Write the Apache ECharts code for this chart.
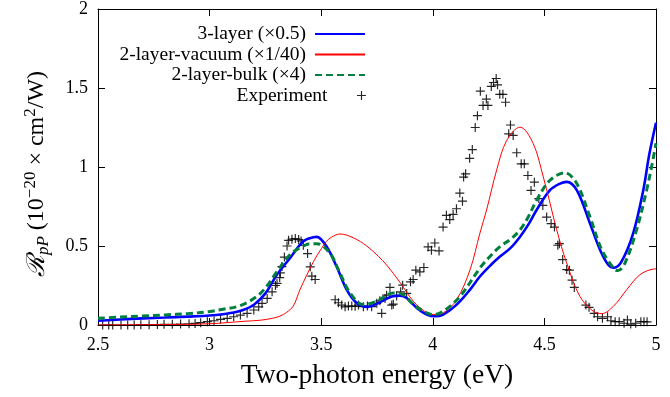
<!DOCTYPE html>
<html>
<head>
<meta charset="utf-8">
<script src="https://cdn.jsdelivr.net/npm/echarts@6/dist/echarts.min.js"></script>
<style>
  html, body { margin: 0; padding: 0; background: #fff; }
  #chart { width: 670px; height: 397px; }
</style>
</head>
<body>
<div id="chart"></div>
<script>
// Axis ticks
const xTicks = [2.5, 3, 3.5, 4, 4.5, 5];
const yTicks = [0, 0.5, 1, 1.5, 2];

// Series names
const names = ['3-layer (\u00d70.5)', '2-layer-vacuum (\u00d71/40)', '2-layer-bulk (\u00d74)', 'Experiment'];

// 3-layer model (scaled by 0.5): [energy eV, R]
const threeLayer = [
  [2.5, 0.027], [2.6, 0.035], [2.7, 0.042], [2.8, 0.047], [2.9, 0.053], [3.0, 0.06],
  [3.06, 0.068], [3.1, 0.077], [3.15, 0.095], [3.2, 0.13], [3.25, 0.2], [3.3, 0.315],
  [3.36, 0.423], [3.42, 0.53], [3.465, 0.556], [3.48, 0.558], [3.524, 0.497], [3.569, 0.37],
  [3.614, 0.224], [3.659, 0.14], [3.71, 0.115], [3.763, 0.144], [3.816, 0.181], [3.853, 0.186],
  [3.883, 0.171], [3.928, 0.108], [3.973, 0.066], [4.01, 0.055], [4.047, 0.066], [4.107, 0.129],
  [4.167, 0.224], [4.211, 0.307], [4.26, 0.38], [4.301, 0.433], [4.35, 0.49], [4.391, 0.559],
  [4.43, 0.64], [4.465, 0.728], [4.525, 0.853], [4.57, 0.895], [4.6, 0.906], [4.645, 0.853],
  [4.704, 0.644], [4.749, 0.476], [4.786, 0.381], [4.812, 0.362], [4.846, 0.402], [4.898, 0.581],
  [4.943, 0.853], [4.97, 1.08], [5.0, 1.28]
];

// 2-layer model, vacuum (scaled by 1/40)
const twoLayerVacuum = [
  [2.5, 0.0], [2.8, 0.003], [3.0, 0.008], [3.159, 0.024], [3.226, 0.03], [3.28, 0.042],
  [3.315, 0.056], [3.345, 0.08], [3.375, 0.12], [3.405, 0.224], [3.465, 0.4], [3.502, 0.486],
  [3.524, 0.53], [3.545, 0.555], [3.584, 0.576], [3.644, 0.552], [3.704, 0.5], [3.756, 0.435],
  [3.793, 0.38], [3.853, 0.27], [3.913, 0.15], [3.973, 0.077], [4.002, 0.066], [4.047, 0.077],
  [4.107, 0.161], [4.167, 0.35], [4.211, 0.581], [4.241, 0.728], [4.286, 0.98], [4.331, 1.168],
  [4.391, 1.252], [4.45, 1.148], [4.495, 0.937], [4.522, 0.79], [4.555, 0.602], [4.6, 0.392],
  [4.659, 0.181], [4.719, 0.087], [4.757, 0.072], [4.809, 0.118], [4.869, 0.224], [4.928, 0.318],
  [4.988, 0.354], [5.0, 0.355]
];

// 2-layer model, bulk (scaled by 4)
const twoLayerBulk = [
  [2.5, 0.042], [2.6, 0.05], [2.7, 0.057], [2.8, 0.064], [2.9, 0.072], [3.0, 0.085],
  [3.06, 0.1], [3.136, 0.122], [3.211, 0.18], [3.256, 0.245], [3.293, 0.32], [3.36, 0.445],
  [3.42, 0.5], [3.45, 0.515], [3.48, 0.515], [3.539, 0.455], [3.584, 0.329], [3.629, 0.203],
  [3.689, 0.129], [3.749, 0.15], [3.823, 0.203], [3.868, 0.192], [3.913, 0.129], [3.973, 0.077],
  [4.002, 0.066], [4.047, 0.087], [4.122, 0.181], [4.211, 0.36], [4.26, 0.44], [4.301, 0.496],
  [4.35, 0.545], [4.391, 0.602], [4.43, 0.69], [4.465, 0.79], [4.525, 0.916], [4.592, 0.963],
  [4.645, 0.895], [4.704, 0.685], [4.757, 0.476], [4.816, 0.35], [4.83, 0.345], [4.861, 0.392],
  [4.913, 0.602], [4.958, 0.853], [4.98, 1.0], [5.0, 1.15]
];

// Measured spectrum
const experiment = [
  [2.521, 0.0], [2.548, 0.0], [2.566, 0.0], [2.603, 0.0], [2.633, 0.0], [2.662, 0.0],
  [2.692, 0.002], [2.729, 0.002], [2.766, 0.003], [2.796, 0.004], [2.833, 0.005], [2.87, 0.006],
  [2.908, 0.008], [2.935, 0.01], [2.96, 0.015], [2.99, 0.021], [3.02, 0.027], [3.049, 0.036],
  [3.079, 0.042], [3.108, 0.052], [3.138, 0.063], [3.168, 0.074], [3.198, 0.095], [3.22, 0.115],
  [3.235, 0.137], [3.258, 0.168], [3.28, 0.21], [3.295, 0.25], [3.302, 0.263], [3.314, 0.3],
  [3.317, 0.33], [3.324, 0.37], [3.335, 0.43], [3.347, 0.5], [3.354, 0.536], [3.369, 0.543],
  [3.384, 0.547], [3.399, 0.541], [3.41, 0.532], [3.42, 0.505], [3.439, 0.452], [3.451, 0.368],
  [3.458, 0.309], [3.473, 0.288],
  [3.5625, 0.16], [3.577, 0.141], [3.592, 0.126], [3.607, 0.115], [3.622, 0.12], [3.637, 0.12],
  [3.652, 0.118], [3.667, 0.126], [3.689, 0.116], [3.707, 0.12], [3.726, 0.116], [3.749, 0.137],
  [3.763, 0.153], [3.771, 0.074], [3.786, 0.168], [3.793, 0.189], [3.808, 0.238], [3.816, 0.126],
  [3.823, 0.132], [3.838, 0.183], [3.856, 0.21], [3.865, 0.252], [3.883, 0.2], [3.9, 0.273],
  [3.912, 0.288], [3.924, 0.347], [3.942, 0.336], [3.96, 0.364], [3.979, 0.494], [3.994, 0.473],
  [4.009, 0.519], [4.028, 0.469], [4.046, 0.62], [4.061, 0.694], [4.076, 0.667], [4.091, 0.7],
  [4.106, 0.736], [4.121, 0.835], [4.133, 0.784], [4.138, 0.936], [4.147, 0.957], [4.165, 1.055],
  [4.177, 1.11], [4.19, 1.25], [4.2, 1.325], [4.213, 1.48], [4.225, 1.39], [4.24, 1.43],
  [4.247, 1.39], [4.262, 1.51], [4.272, 1.535], [4.284, 1.56], [4.29, 1.52], [4.3, 1.46],
  [4.314, 1.46], [4.326, 1.41], [4.34, 1.21], [4.348, 1.266], [4.36, 1.2], [4.376, 1.09],
  [4.396, 1.02], [4.41, 1.02], [4.426, 0.946], [4.44, 0.852], [4.455, 0.904], [4.475, 0.8],
  [4.493, 0.757], [4.51, 0.683], [4.53, 0.642], [4.545, 0.62], [4.56, 0.505], [4.567, 0.515],
  [4.582, 0.414], [4.6, 0.351], [4.612, 0.347], [4.624, 0.284], [4.634, 0.238], [4.686, 0.126],
  [4.7, 0.112], [4.723, 0.074], [4.738, 0.052], [4.76, 0.042], [4.783, 0.052], [4.798, 0.027],
  [4.817, 0.021], [4.835, 0.021], [4.857, 0.011], [4.872, 0.032], [4.887, 0.006], [4.909, 0.011],
  [4.932, 0.021], [4.946, 0.021], [4.96, 0.02]
];

const FONT = "'Liberation Serif', 'DejaVu Serif', serif";
const PLUS = 'path://M8.7,0 H11.3 V8.7 H20 V11.3 H11.3 V20 H8.7 V11.3 H0 V8.7 H8.7 Z';

const chart = echarts.init(document.getElementById('chart'), null, { renderer: 'canvas' });

function axisX(pos, showLabels) {
  return {
    type: 'value', position: pos, min: 2.5, max: 5, interval: 0.5,
    axisLine: { show: true, onZero: false, lineStyle: { color: '#000', width: 1 } },
    axisTick: { show: true, inside: true, length: 7, lineStyle: { color: '#000' } },
    axisLabel: {
      show: showLabels, margin: 11, fontFamily: FONT, fontSize: 18, color: '#000',
      formatter: v => xTicks.includes(v) ? String(v) : ''
    },
    splitLine: { show: false }
  };
}
function axisY(pos, showLabels) {
  return {
    type: 'value', position: pos, min: 0, max: 2, interval: 0.5,
    axisLine: { show: true, onZero: false, lineStyle: { color: '#000', width: 1 } },
    axisTick: { show: true, inside: true, length: 7, lineStyle: { color: '#000' } },
    axisLabel: {
      show: showLabels, margin: 10, fontFamily: FONT, fontSize: 18, color: '#000',
      formatter: v => yTicks.includes(v) ? String(v) : ''
    },
    splitLine: { show: false }
  };
}

const xMain = axisX('bottom', true);
xMain.name = 'Two-photon energy (eV)';
xMain.nameLocation = 'middle';
xMain.nameGap = 37;
xMain.nameTextStyle = { fontFamily: FONT, fontSize: 27.5, color: '#000' };

const yMain = axisY('left', true);
yMain.name = '{R|\u211b}{sub|pP}{n| (10}{sup|\u221220}{n| \u00d7 cm}{sup|2}{n|/W)}';
yMain.nameLocation = 'middle';
yMain.nameGap = 46;
yMain.nameTextStyle = {
  fontFamily: FONT, fontSize: 24, color: '#000',
  padding: [0, 14, 0, 0],
  rich: {
    R: { fontFamily: "'DejaVu Serif', serif", fontStyle: 'italic', fontSize: 25, lineHeight: 30, color: '#000' },
    n: { fontFamily: FONT, fontSize: 24, lineHeight: 30, color: '#000' },
    sub: { fontFamily: FONT, fontStyle: 'italic', fontSize: 17, lineHeight: 13, verticalAlign: 'bottom', color: '#000' },
    sup: { fontFamily: FONT, fontSize: 17, lineHeight: 17, verticalAlign: 'top', color: '#000' }
  }
};

// One legend block per entry, right-aligned so the samples line up in one column
const legendRows = [34, 54.5, 75, 95.5];
const legends = names.map((nm, i) => {
  const isLine = i < 3;
  return {
    data: [nm],
    orient: 'vertical',
    align: 'right',
    right: 304,
    top: legendRows[i] - 10,
    padding: 0,
    itemWidth: 50,
    itemHeight: isLine ? 14 : 9,
    selectedMode: false,
    itemStyle: isLine ? { color: 'rgba(0,0,0,0)', borderWidth: 0, opacity: 0 } : {},
    textStyle: { fontFamily: FONT, fontSize: 19.5, color: '#000', padding: [0, 4, 0, 0] }
  };
});

chart.setOption({
  animation: false,
  backgroundColor: '#fff',
  grid: { left: 98, right: 14, top: 8, bottom: 72, show: false },
  legend: legends,
  xAxis: [xMain, axisX('top', false)],
  yAxis: [yMain, axisY('right', false)],
  series: [
    {
      name: names[0], type: 'line', data: threeLayer, smooth: 0.35, symbol: 'none',
      lineStyle: { color: '#0000ff', width: 2.6 }, itemStyle: { color: '#0000ff' }
    },
    {
      name: names[1], type: 'line', data: twoLayerVacuum, smooth: 0.35, symbol: 'none',
      lineStyle: { color: '#ff0000', width: 1 }, itemStyle: { color: '#ff0000' }
    },
    {
      name: names[2], type: 'line', data: twoLayerBulk, smooth: 0.35, symbol: 'none',
      lineStyle: { color: '#007f3f', width: 3, type: [7, 4] }, itemStyle: { color: '#007f3f' }
    },
    {
      name: names[3], type: 'scatter', data: experiment, symbol: PLUS, symbolSize: 9,
      itemStyle: { color: '#000', opacity: 0.85 }
    }
  ]
});
</script>
</body>
</html>
